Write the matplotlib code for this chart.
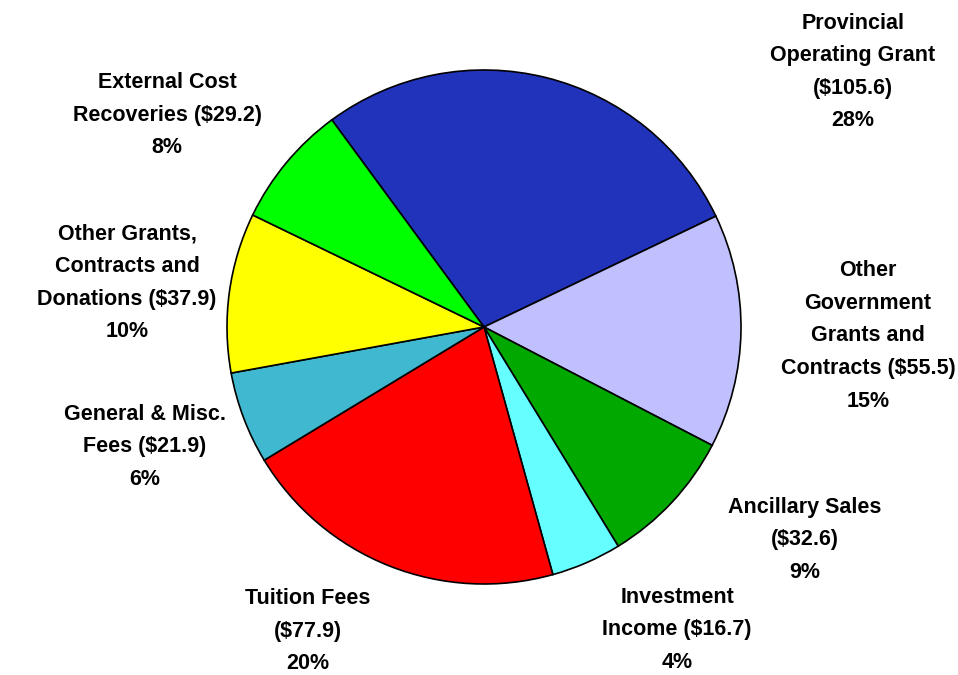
#!/usr/bin/env python3
"""Revenue breakdown pie chart."""

import matplotlib
matplotlib.use('Agg')
import matplotlib.pyplot as plt

# Data ($ millions), clockwise from the top
names = [
    'Provincial\nOperating Grant',
    'Other\nGovernment\nGrants and\nContracts',
    'Ancillary Sales',
    'Investment\nIncome',
    'Tuition Fees',
    'General & Misc.\nFees',
    'Other Grants,\nContracts and\nDonations',
    'External Cost\nRecoveries',
]
values = [105.6, 55.5, 32.6, 16.7, 77.9, 21.9, 37.9, 29.2]
percents = [28, 15, 9, 4, 20, 6, 10, 8]  # as printed on the chart
colors = ['#2233BB', '#C0C0FF', '#00A800', '#66FFFF',
          '#FF0000', '#40B8CF', '#FFFF00', '#00FF00']

# how the amount joins the name, and label centres in pixels (from top-left)
joins = ['\n', ' ', '\n', ' ', '\n', ' ', ' ', ' ']
label_px = [(853, 72), (868, 336), (805, 540), (677, 630),
            (308, 631), (145, 447), (127, 283), (167, 115)]

W, H = 958, 675
CX, CY, R = 484, 327, 257

fig = plt.figure(figsize=(W / 100, H / 100), dpi=100)
ax = fig.add_axes([0, 0, 1, 1])

ax.pie(values, colors=colors, startangle=126.3, counterclock=False,
       radius=1.0, wedgeprops=dict(edgecolor='black', linewidth=1.2))

ax.set_xlim(-CX / R, (W - CX) / R)
ax.set_ylim(-(H - CY) / R, CY / R)
ax.set_aspect('equal')
ax.axis('off')

for name, val, pct, join, (px, py) in zip(names, values, percents, joins, label_px):
    text = f"{name}{join}(${val})\n{pct}%"
    x = (px - CX) / R
    y = (CY - py) / R
    ax.text(x, y, text, ha='center', va='center', fontsize=15.5,
            fontweight='bold', family='Liberation Sans', linespacing=1.72)

fig.savefig('out.png', dpi=100)
